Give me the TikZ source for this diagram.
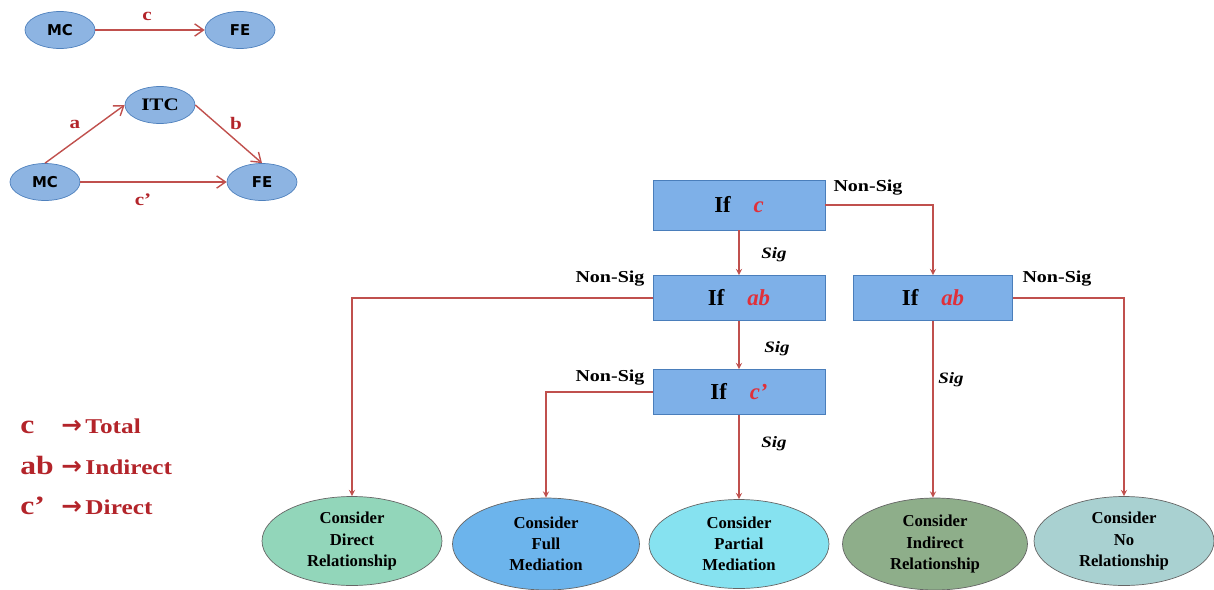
\documentclass[tikz,border=0pt]{standalone}
\usepackage{fontspec}
\setmainfont{Liberation Serif}
\setsansfont{DejaVu Sans}
\newfontfamily\wideserif[FakeStretch=1.2, Ligatures=TeX]{Liberation Serif}
\newfontfamily\arrowfont{DejaVu Sans}
\usetikzlibrary{shapes.geometric, arrows.meta}

\definecolor{linered}{HTML}{C0504D}
\definecolor{textred}{HTML}{B3242A}
\definecolor{varred}{HTML}{E0303A}
\definecolor{varfill}{HTML}{8DB4E2}
\definecolor{varline}{HTML}{4F81BD}
\definecolor{boxfill}{HTML}{7EB0E8}
\definecolor{boxline}{HTML}{4A7EBB}
\definecolor{directfill}{HTML}{92D6BA}
\definecolor{fullfill}{HTML}{6CB4EC}
\definecolor{partialfill}{HTML}{86E2F0}
\definecolor{indirectfill}{HTML}{8EAE8A}
\definecolor{nofill}{HTML}{A9D1D1}

\begin{document}
\begin{tikzpicture}[x=0.02cm, y=-0.02cm]
  \useasboundingbox (0,0) rectangle (1214,589);
  \tikzstyle{var}=[ellipse, draw=varline, fill=varfill, minimum width=1.4cm, minimum height=0.74cm, inner sep=0pt, font=\sffamily\bfseries\fontsize{8.5}{9}\selectfont]
  \tikzstyle{link}=[draw=linered, thick, -{Straight Barb[length=5pt, width=7pt]}]
  \tikzstyle{lab}=[text=textred, font=\wideserif\bfseries\normalsize]
  \tikzstyle{test}=[rectangle, draw=boxline, fill=boxfill, minimum width=3.44cm, minimum height=0.9cm, font=\bfseries\fontsize{13}{14}\selectfont]
  \tikzstyle{result}=[ellipse, draw=gray!80!black, minimum width=3.6cm, minimum height=1.78cm, inner sep=0pt, align=center, font=\bfseries\fontsize{9.5}{12}\selectfont]
  \tikzstyle{flow}=[draw=linered, semithick, -stealth]
  \tikzstyle{sig}=[font=\wideserif\bfseries\itshape\fontsize{9}{10}\selectfont]
  \tikzstyle{nonsig}=[font=\wideserif\bfseries\fontsize{9.5}{10}\selectfont]
  \tikzstyle{legend}=[text=textred, font=\wideserif\bfseries\fontsize{12}{14}\selectfont, anchor=base west, inner sep=0pt]
  \tikzstyle{legvar}=[text=textred, font=\wideserif\bfseries\fontsize{15}{16}\selectfont, anchor=base west, inner sep=0pt]
  \newcommand{\legarrow}{{\arrowfont\bfseries\fontsize{14}{14}\selectfont →}\hspace{2pt}}

  % total effect
  \node[var] (mc1) at (60,  30) {MC};
  \node[var] (fe1) at (240, 30) {FE};
  \path[link] (mc1) -- (fe1);
  \node[lab] (labc) at (147, 16) {c};

  % mediation model
  \node[var, font=\wideserif\bfseries\fontsize{10}{11}\selectfont] (itc) at (160, 105) {ITC};
  \node[var] (mc2) at (45,  182) {MC};
  \node[var] (fe2) at (262, 182) {FE};
  \path[link] (mc2.north) -- (itc.west);
  \path[link] (itc.east) -- (fe2.north);
  \path[link] (mc2) -- (fe2);
  \node[lab] (laba)  at (75,  124) {a};
  \node[lab] (labb)  at (236, 123) {b};
  \node[lab] (labc2) at (143, 200) {c'};

  % legend
  \node[legvar] (lc)  at (20, 433) {c};
  \node[legvar] (lab) at (20, 474) {ab};
  \node[legvar] (lc2) at (20, 514) {c'};
  \node[legend] (ltot) at (61, 433) {\legarrow Total};
  \node[legend] (lind) at (61, 474) {\legarrow Indirect};
  \node[legend] (ldir) at (61, 514) {\legarrow Direct};

  % decision tree
  \node[test, minimum height=1cm] (ifc) at (739, 205) {If\hspace{1em}\textcolor{varred}{\itshape c}};
  \node[test] (ifab)  at (739, 298) {If\hspace{1em}\textcolor{varred}{\itshape ab}};
  \node[test] (ifc2)  at (739, 392) {If\hspace{1em}\textcolor{varred}{\itshape c'}};
  \node[test, minimum width=3.18cm] (ifab2) at (933, 298) {If\hspace{1em}\textcolor{varred}{\itshape ab}};

  \node[result, fill=directfill]   (direct)   at (352,  541) {Consider\\Direct\\Relationship};
  \node[result, fill=fullfill, minimum width=3.74cm, minimum height=1.84cm] (full) at (546, 544) {Consider\\Full\\Mediation};
  \node[result, fill=partialfill]  (partial)  at (739,  544) {Consider\\Partial\\Mediation};
  \node[result, fill=indirectfill, minimum width=3.7cm, minimum height=1.84cm] (indirect) at (935, 544) {Consider\\Indirect\\Relationship};
  \node[result, fill=nofill]       (norel)    at (1124, 541) {Consider\\No\\Relationship};

  \path[flow] (ifc) -- (ifab);
  \path[flow] (ifc.east) -| (ifab2.north);
  \path[flow] (ifab) -- (ifc2);
  \path[flow] (ifab.west) -| (direct.north);
  \path[flow] (ifc2.west) -| (full.north);
  \path[flow] (ifc2) -- (partial);
  \path[flow] (ifab2) -- (ifab2 |- indirect.north);
  \path[flow] (ifab2.east) -| (norel.north);

  \node[nonsig] (ns1) at (868,  188) {Non-Sig};
  \node[nonsig] (ns2) at (610,  279) {Non-Sig};
  \node[nonsig] (ns3) at (610,  378) {Non-Sig};
  \node[nonsig] (ns4) at (1057, 279) {Non-Sig};
  \node[sig] (s1) at (774, 255) {Sig};
  \node[sig] (s2) at (777, 349) {Sig};
  \node[sig] (s3) at (774, 444) {Sig};
  \node[sig] (s4) at (951, 380) {Sig};
\end{tikzpicture}
\end{document}
